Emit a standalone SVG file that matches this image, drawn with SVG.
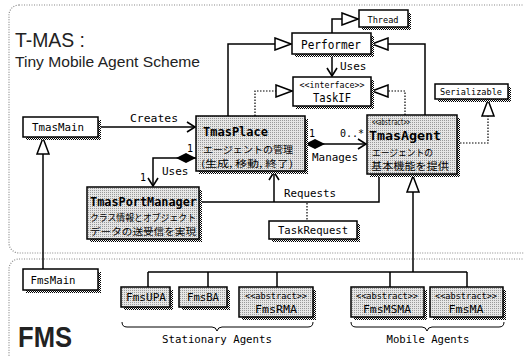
<svg xmlns="http://www.w3.org/2000/svg" width="524" height="356" viewBox="0 0 524 356">
<defs>
<pattern id="shd" width="2" height="2" patternUnits="userSpaceOnUse"><rect width="2" height="2" fill="#fff"/><rect width="1" height="1" fill="#000"/><rect x="1" y="1" width="1" height="1" fill="#000"/></pattern>
<pattern id="half" width="2" height="2" patternUnits="userSpaceOnUse"><rect width="2" height="2" fill="#e6e6e6"/><rect width="1" height="1" fill="#9a9a9a"/></pattern>
<marker id="tri" markerUnits="userSpaceOnUse" markerWidth="18" markerHeight="14" viewBox="-1 -1 18 14" refX="16" refY="6" orient="auto"><path d="M0,0 L16,6 L0,12 Z" fill="#fff" stroke="#000" stroke-width="1.5"/></marker>
<marker id="arr" markerUnits="userSpaceOnUse" markerWidth="12" markerHeight="12" viewBox="-1 -1 12 12" refX="9" refY="5" orient="auto"><path d="M1,0 L9,5 L1,10" fill="none" stroke="#000" stroke-width="1.6"/></marker>
<marker id="dia" markerUnits="userSpaceOnUse" markerWidth="22" markerHeight="12" viewBox="0 -1 22 12" refX="0" refY="5" orient="auto"><path d="M0,5 L10,0 L20,5 L10,10 Z" fill="#000"/></marker>
</defs>
<style>
.reg{fill:none;stroke:#888;stroke-width:1.2;stroke-dasharray:1 1.5}
.sh{fill:url(#shd)}
.bw{fill:#fff;stroke:#000;stroke-width:1.5}
.bg{fill:url(#half);stroke:#000;stroke-width:1.5}
.ln{fill:none;stroke:#000;stroke-width:1.5}
.dt{fill:none;stroke:#000;stroke-width:1.2;stroke-dasharray:1.5 1.5}
.br{fill:none;stroke:#000;stroke-width:1}
text{font-family:"DejaVu Sans Mono","Noto Sans CJK JP",monospace;fill:#000}
.jp{font-family:"Noto Sans CJK JP",sans-serif}
.b{font-weight:bold}
.c{text-anchor:middle}
.ttl{font-family:"Liberation Sans","DejaVu Sans",sans-serif;fill:#222}
</style>
<rect width="524" height="356" fill="#fff"/>
<rect class="reg" x="9" y="5" width="540" height="248" rx="10"/>
<rect class="reg" x="9" y="259" width="540" height="120" rx="10"/>
<text class="ttl" x="15" y="47" font-size="20" textLength="70" lengthAdjust="spacingAndGlyphs">T-MAS :</text>
<text class="ttl" x="15" y="67" font-size="14.5" textLength="185" lengthAdjust="spacingAndGlyphs">Tiny Mobile Agent Scheme</text>
<text class="ttl" x="18" y="347" font-size="30" font-weight="bold" textLength="54" lengthAdjust="spacingAndGlyphs">FMS</text>

<g id="connectors">
<path class="ln" d="M98,127 H195" marker-end="url(#arr)"/>
<text x="130" y="122" font-size="11" textLength="48" lengthAdjust="spacingAndGlyphs">Creates</text>
<path class="ln" d="M332,33 V19 H358" marker-end="url(#tri)"/>
<path class="ln" d="M228,116 V44 H291" marker-end="url(#tri)"/>
<path class="dt" d="M255,116 V91 H292" marker-end="url(#tri)"/>
<path class="ln" d="M425,115 V44 H372" marker-end="url(#tri)"/>
<path class="dt" d="M405,115 V91 H372" marker-end="url(#tri)"/>
<path class="ln" d="M332,54 V76" marker-end="url(#arr)"/>
<text x="340" y="70" font-size="11">Uses</text>
<path class="dt" d="M457,143 H488 V100" marker-end="url(#tri)"/>
<path class="ln" d="M196,158 H153 V186" marker-start="url(#dia)" marker-end="url(#arr)"/>
<text x="187" y="152" font-size="10">1</text>
<text x="140" y="181" font-size="10">1</text>
<text x="162" y="175" font-size="11">Uses</text>
<path class="ln" d="M305,144 H366" marker-start="url(#dia)" marker-end="url(#arr)"/>
<text x="309" y="137" font-size="10">1</text>
<text x="340" y="137" font-size="10">0..*</text>
<text x="312" y="161" font-size="11" textLength="46" lengthAdjust="spacingAndGlyphs">Manages</text>
<path class="ln" d="M199,202 H379 V175"/>
<path class="ln" d="M274,202 V172" marker-end="url(#arr)"/>
<text x="284" y="197" font-size="11" textLength="52" lengthAdjust="spacingAndGlyphs">Requests</text>
<path class="dt" d="M307,203 V221"/>
<path class="ln" d="M43,269 V138" marker-end="url(#tri)"/>
<path class="ln" d="M413,272 V176" marker-end="url(#tri)"/>
<path class="ln" d="M148,272 H467 M148,272 V287 M208,272 V287 M277,272 V287 M390,272 V287 M467,272 V287"/>
<path class="br" d="M122,322 Q122,327 127,327 H212 Q216,327 217,331 Q218,327 222,327 H308 Q313,327 313,322"/>
<path class="br" d="M351,322 Q351,327 356,327 H422 Q426,327 427,331 Q428,327 432,327 H499 Q504,327 504,322"/>
<text class="c" x="217" y="343" font-size="11" textLength="110" lengthAdjust="spacingAndGlyphs">Stationary Agents</text>
<text class="c" x="428" y="343" font-size="11" textLength="83" lengthAdjust="spacingAndGlyphs">Mobile Agents</text>
</g>

<g id="Thread"><rect class="sh" x="362" y="13" width="49" height="17"/><rect class="bw" x="359" y="10" width="49" height="17"/><text class="c" x="383" y="23" font-size="9" textLength="31" lengthAdjust="spacingAndGlyphs">Thread</text></g>
<g id="Performer"><rect class="sh" x="295" y="36" width="79" height="21"/><rect class="bw" x="292" y="33" width="79" height="21"/><text class="c" x="331" y="49" font-size="12" textLength="60" lengthAdjust="spacingAndGlyphs">Performer</text></g>
<g id="TaskIF"><rect class="sh" x="296" y="80" width="78" height="29"/><rect class="bw" x="293" y="77" width="78" height="29"/><text class="c" x="332" y="88" font-size="9" textLength="65" lengthAdjust="spacingAndGlyphs">&lt;&lt;interface&gt;&gt;</text><text class="c" x="332" y="102" font-size="12" textLength="38" lengthAdjust="spacingAndGlyphs">TaskIF</text></g>
<g id="Serializable"><rect class="sh" x="438" y="87" width="73" height="15"/><rect class="bw" x="435" y="84" width="73" height="15"/><text class="c" x="471" y="95" font-size="9.5" textLength="62" lengthAdjust="spacingAndGlyphs">Serializable</text></g>
<g id="TmasMain"><rect class="sh" x="26" y="120" width="75" height="20"/><rect class="bw" x="23" y="117" width="75" height="20"/><text class="c" x="58" y="131" font-size="10.5" textLength="52" lengthAdjust="spacingAndGlyphs">TmasMain</text></g>
<g id="TmasPlace"><rect class="sh" x="199" y="119" width="109" height="55"/><rect class="bg" x="196" y="116" width="109" height="55"/><text class="b" x="203" y="136" font-size="12" textLength="65" lengthAdjust="spacingAndGlyphs">TmasPlace</text><text class="jp" x="203" y="153" font-size="9.5" textLength="90" lengthAdjust="spacingAndGlyphs">エージェントの管理</text><text class="jp" x="201" y="167" font-size="9.5" textLength="92" lengthAdjust="spacingAndGlyphs">(生成, 移動, 終了)</text></g>
<g id="TmasAgent"><rect class="sh" x="370" y="118" width="90" height="59"/><rect class="bg" x="367" y="115" width="90" height="59"/><text x="372" y="125" font-size="8" textLength="38" lengthAdjust="spacingAndGlyphs">&lt;&lt;abstract&gt;&gt;</text><text class="b" x="369" y="140" font-size="13" textLength="72" lengthAdjust="spacingAndGlyphs">TmasAgent</text><text class="jp" x="372" y="156" font-size="9.5" textLength="61" lengthAdjust="spacingAndGlyphs">エージェントの</text><text class="jp" x="371" y="170" font-size="10" textLength="78" lengthAdjust="spacingAndGlyphs">基本機能を提供</text></g>
<g id="TmasPortManager"><rect class="sh" x="90" y="190" width="112" height="52"/><rect class="bg" x="87" y="187" width="112" height="52"/><text class="b" x="90" y="206" font-size="12" textLength="107" lengthAdjust="spacingAndGlyphs">TmasPortManager</text><text class="jp" x="90" y="221" font-size="9.5" textLength="106" lengthAdjust="spacingAndGlyphs">クラス情報とオブジェクト</text><text class="jp" x="90" y="235" font-size="9.5" textLength="106" lengthAdjust="spacingAndGlyphs">データの送受信を実現</text></g>
<g id="TaskRequest"><rect class="sh" x="272" y="224" width="88" height="18"/><rect class="bw" x="269" y="221" width="88" height="18"/><text class="c" x="313" y="234" font-size="11" textLength="70" lengthAdjust="spacingAndGlyphs">TaskRequest</text></g>
<g id="FmsMain"><rect class="sh" x="26" y="272" width="75" height="21"/><rect class="bw" x="23" y="269" width="75" height="21"/><text class="c" x="53" y="284" font-size="10" textLength="45" lengthAdjust="spacingAndGlyphs">FmsMain</text></g>
<g id="FmsUPA"><rect class="sh" x="124" y="290" width="49" height="20"/><rect class="bg" x="121" y="287" width="49" height="20"/><text class="c" x="146" y="301" font-size="10" textLength="40" lengthAdjust="spacingAndGlyphs">FmsUPA</text></g>
<g id="FmsBA"><rect class="sh" x="182" y="290" width="48" height="20"/><rect class="bg" x="179" y="287" width="48" height="20"/><text class="c" x="203" y="301" font-size="10" textLength="32" lengthAdjust="spacingAndGlyphs">FmsBA</text></g>
<g id="FmsRMA"><rect class="sh" x="242" y="290" width="74" height="30"/><rect class="bg" x="239" y="287" width="74" height="30"/><text class="c" x="276" y="299" font-size="9" textLength="62" lengthAdjust="spacingAndGlyphs">&lt;&lt;abstract&gt;&gt;</text><text class="c" x="276" y="313" font-size="10" textLength="42" lengthAdjust="spacingAndGlyphs">FmsRMA</text></g>
<g id="FmsMSMA"><rect class="sh" x="354" y="290" width="73" height="30"/><rect class="bg" x="351" y="287" width="73" height="30"/><text class="c" x="387" y="299" font-size="9" textLength="62" lengthAdjust="spacingAndGlyphs">&lt;&lt;abstract&gt;&gt;</text><text class="c" x="387" y="313" font-size="10" textLength="48" lengthAdjust="spacingAndGlyphs">FmsMSMA</text></g>
<g id="FmsMA"><rect class="sh" x="433" y="290" width="73" height="30"/><rect class="bg" x="430" y="287" width="73" height="30"/><text class="c" x="466" y="299" font-size="9" textLength="62" lengthAdjust="spacingAndGlyphs">&lt;&lt;abstract&gt;&gt;</text><text class="c" x="466" y="313" font-size="10" textLength="35" lengthAdjust="spacingAndGlyphs">FmsMA</text></g>
</svg>
